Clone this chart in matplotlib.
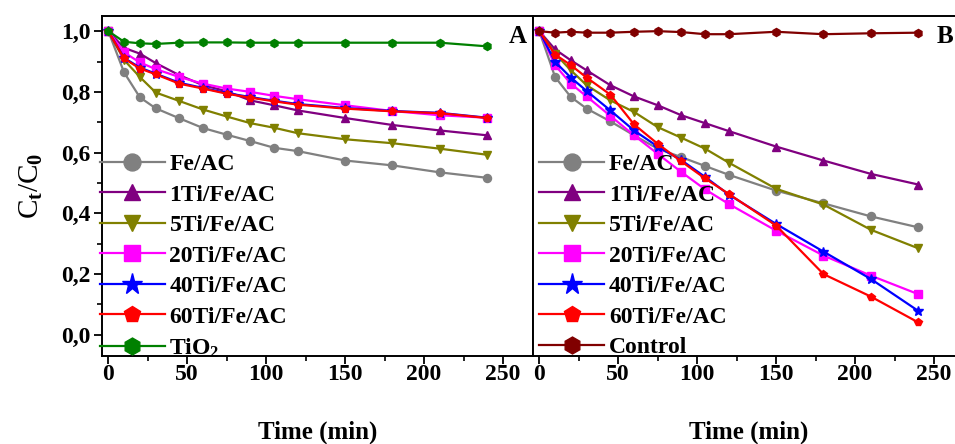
import numpy as np
import matplotlib
matplotlib.use('Agg')
import matplotlib.pyplot as plt
from matplotlib.ticker import MultipleLocator, FuncFormatter

plt.rcParams['font.family'] = ['Liberation Serif', 'DejaVu Serif']
plt.rcParams['font.weight'] = 'bold'
plt.rcParams['mathtext.fontset'] = 'custom'
plt.rcParams['mathtext.rm'] = 'Liberation Serif:bold'
plt.rcParams['mathtext.bf'] = 'Liberation Serif:bold'
plt.rcParams['mathtext.it'] = 'Liberation Serif:bold'

# time points (min)
t = [0, 10, 20, 30, 45, 60, 75, 90, 105, 120, 150, 180, 210, 240]

# panel A
a_fe   = [1.0, 0.864, 0.782, 0.746, 0.713, 0.681, 0.659, 0.638, 0.616, 0.605, 0.574, 0.558, 0.535, 0.517]
a_1ti  = [1.0, 0.945, 0.926, 0.895, 0.855, 0.822, 0.802, 0.772, 0.756, 0.739, 0.714, 0.691, 0.673, 0.657]
a_5ti  = [1.0, 0.905, 0.849, 0.798, 0.770, 0.742, 0.719, 0.697, 0.682, 0.664, 0.644, 0.631, 0.613, 0.593]
a_20ti = [1.0, 0.930, 0.897, 0.875, 0.849, 0.827, 0.811, 0.800, 0.787, 0.776, 0.756, 0.737, 0.723, 0.715]
a_40ti = [1.0, 0.912, 0.880, 0.860, 0.830, 0.813, 0.796, 0.783, 0.771, 0.760, 0.747, 0.737, 0.731, 0.715]
a_60ti = [1.0, 0.910, 0.877, 0.858, 0.827, 0.811, 0.794, 0.781, 0.769, 0.758, 0.745, 0.736, 0.730, 0.714]
a_tio2 = [1.0, 0.965, 0.960, 0.958, 0.962, 0.963, 0.963, 0.962, 0.962, 0.962, 0.962, 0.962, 0.962, 0.950]

# panel B
b_fe   = [1.0, 0.849, 0.783, 0.745, 0.703, 0.657, 0.613, 0.585, 0.556, 0.527, 0.475, 0.433, 0.390, 0.354]
b_1ti  = [1.0, 0.940, 0.904, 0.871, 0.822, 0.785, 0.756, 0.723, 0.697, 0.671, 0.620, 0.574, 0.530, 0.495]
b_5ti  = [1.0, 0.926, 0.871, 0.822, 0.772, 0.734, 0.684, 0.649, 0.613, 0.567, 0.481, 0.429, 0.346, 0.285]
b_20ti = [1.0, 0.888, 0.827, 0.785, 0.721, 0.657, 0.596, 0.536, 0.479, 0.431, 0.343, 0.261, 0.195, 0.134]
b_40ti = [1.0, 0.899, 0.847, 0.803, 0.739, 0.673, 0.620, 0.575, 0.520, 0.462, 0.365, 0.274, 0.184, 0.079]
b_60ti = [1.0, 0.923, 0.888, 0.847, 0.791, 0.693, 0.629, 0.571, 0.515, 0.464, 0.360, 0.200, 0.126, 0.041]
b_ctrl = [1.0, 0.995, 0.998, 0.995, 0.995, 0.998, 1.0, 0.997, 0.990, 0.990, 0.998, 0.990, 0.993, 0.995]

labels = ['Fe/AC', '1Ti/Fe/AC', '5Ti/Fe/AC', '20Ti/Fe/AC', '40Ti/Fe/AC', '60Ti/Fe/AC']
colors = ['#808080', '#800080', '#808000', '#FF00FF', '#0000FF', '#FF0000']
markers = ['o', '^', 'v', 's', '*', 'p']

fig = plt.figure(figsize=(9.55, 4.44), dpi=100)
ax1 = fig.add_axes([0.1068, 0.198, 0.4513, 0.766])
ax2 = fig.add_axes([0.5581, 0.198, 0.4513, 0.766])

def style(ax, left_labels):
    ax.set_xlim(-4, 269)
    ax.set_ylim(-0.07, 1.05)
    ax.xaxis.set_major_locator(MultipleLocator(50))
    ax.xaxis.set_minor_locator(MultipleLocator(25))
    ax.yaxis.set_major_locator(MultipleLocator(0.2))
    ax.yaxis.set_minor_locator(MultipleLocator(0.1))
    ax.tick_params(which='major', direction='out', length=6, width=1.3, labelsize=17, pad=2)
    ax.tick_params(axis='x', which='major', pad=0)
    ax.tick_params(which='minor', direction='out', length=3.5, width=1.2)
    ax.tick_params(axis='y', left=left_labels, labelleft=left_labels, which='both')
    ax.yaxis.set_major_formatter(FuncFormatter(lambda v, p: ('%.1f' % v).replace('.', ',')))
    for s in ax.spines.values():
        s.set_linewidth(1.4)
    ax.set_xlabel('Time (min)', fontsize=18, fontweight='bold', labelpad=25)

sets_a = [a_fe, a_1ti, a_5ti, a_20ti, a_40ti, a_60ti]
sets_b = [b_fe, b_1ti, b_5ti, b_20ti, b_40ti, b_60ti]
for ys, lab, c, m in zip(sets_a, labels, colors, markers):
    ax1.plot(t, ys, color=c, marker=m, ms=7.5 if m == '*' else 5.8, lw=1.6, label=lab)
ax1.plot(t, a_tio2, color='#008000', marker='h', ms=5.8, lw=1.6, label='TiO$_2$')
for ys, lab, c, m in zip(sets_b, labels, colors, markers):
    ax2.plot(t, ys, color=c, marker=m, ms=7.5 if m == '*' else 5.8, lw=1.6, label=lab)
ax2.plot(t, b_ctrl, color='#800000', marker='h', ms=5.8, lw=1.6, label='Control')

style(ax1, True)
style(ax2, False)
ax1.set_ylabel('C$_t$/C$_0$', fontsize=21, labelpad=12)

for ax, x0 in ((ax1, -0.005), (ax2, 0.015)):
    ax.legend(loc='upper left', bbox_to_anchor=(x0, 0.595), frameon=False, fontsize=17,
              markerscale=2.1, handlelength=2.75, handletextpad=0.2, labelspacing=0.38,
              borderaxespad=0, borderpad=0)

ax1.text(0.965, 0.94, 'A', transform=ax1.transAxes, fontsize=18, fontweight='bold', ha='center', va='center')
ax2.text(0.955, 0.94, 'B', transform=ax2.transAxes, fontsize=18, fontweight='bold', ha='center', va='center')

fig.savefig('out.png', dpi=100)
